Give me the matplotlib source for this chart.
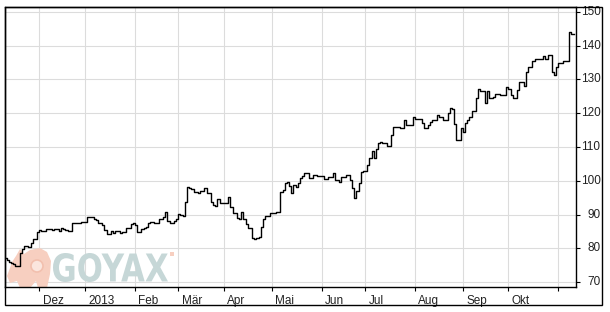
import numpy as np
import pandas as pd
import matplotlib
matplotlib.use("Agg")
import matplotlib.pyplot as plt
import matplotlib.transforms as mtransforms
from matplotlib.patches import PathPatch, Polygon, Rectangle, Circle
from matplotlib.textpath import TextPath
from matplotlib.font_manager import FontProperties

# ---------------- data (one closing price per trading day) ----------------
start_date = "2012-11-09"
prices = [
    77.0, 76.5, 76.0, 75.6, 75.2, 74.8, 74.7, 78.6, 79.8, 80.6,
    80.6, 80.4, 81.6, 82.6, 82.8, 84.7, 85.4, 85.0, 85.2, 85.6,
    85.7, 85.6, 85.5, 85.8, 85.6, 85.2, 85.9, 85.6, 85.3, 85.0,
    85.0, 87.5, 87.6, 87.5, 87.6, 87.8, 87.7, 87.9, 89.2, 89.4,
    89.2, 88.6, 88.4, 87.6, 87.6, 86.9, 85.4, 84.1, 84.1, 85.1,
    84.6, 85.1, 85.1, 84.6, 84.9, 84.9, 85.9, 85.9, 87.2, 87.4,
    86.9, 84.9, 84.9, 85.6, 85.9, 86.4, 87.6, 87.9, 87.9, 87.4,
    87.4, 88.6, 88.6, 89.4, 90.8, 88.0, 87.4, 87.4, 88.0, 88.6,
    90.1, 90.0, 89.6, 93.8, 98.2, 98.0, 97.6, 96.8, 96.8, 96.3,
    96.9, 96.9, 98.0, 96.3, 96.3, 93.8, 92.8, 92.6, 94.5, 93.5,
    93.5, 93.5, 93.5, 95.1, 92.3, 90.5, 90.5, 88.9, 88.6, 90.6,
    88.6, 87.2, 85.9, 85.9, 82.9, 82.7, 82.9, 83.2, 86.4, 88.6,
    89.6, 89.6, 90.5, 90.5, 90.5, 90.6, 90.6, 96.8, 97.3, 99.3,
    99.7, 98.4, 96.5, 98.7, 98.1, 99.4, 100.7, 101.4, 102.4, 102.4,
    100.7, 100.7, 101.7, 101.7, 101.5, 101.5, 101.5, 100.4, 100.4, 101.1,
    101.1, 102.4, 100.2, 100.2, 99.7, 101.1, 101.1, 101.6, 101.6, 100.2,
    97.8, 94.8, 97.1, 99.3, 102.7, 102.8, 102.8, 104.7, 106.7, 108.9,
    106.7, 109.3, 111.3, 111.5, 111.3, 111.3, 110.3, 110.3, 113.6, 115.8,
    115.8, 115.9, 115.6, 115.6, 118.0, 116.5, 116.5, 116.6, 119.0, 118.2,
    118.3, 118.3, 117.2, 115.6, 115.6, 116.5, 117.5, 118.0, 118.0, 119.5,
    119.0, 119.0, 118.0, 118.0, 120.2, 121.5, 121.2, 116.8, 112.1, 112.1,
    115.6, 114.5, 117.0, 118.0, 119.0, 120.8, 120.8, 124.4, 127.1, 126.7,
    126.7, 123.1, 126.7, 124.6, 124.6, 124.8, 125.7, 125.7, 125.5, 125.5,
    125.5, 127.9, 127.2, 125.5, 124.4, 124.4, 126.9, 129.4, 129.4, 128.1,
    132.3, 133.8, 133.8, 135.6, 136.0, 136.0, 136.0, 136.0, 137.0, 136.0,
    137.3, 137.3, 132.3, 131.3, 133.8, 135.0, 135.0, 135.6, 135.6, 135.4,
    144.2, 143.5, 143.5,
]
month_labels = ["Dez", "2013", "Feb", "Mär", "Apr", "Mai", "Jun", "Jul",
                "Aug", "Sep", "Okt", ""]
y_ticks = [70, 80, 90, 100, 110, 120, 130, 140, 150]

dates = pd.bdate_range(start_date, periods=len(prices))
x = np.arange(len(prices))
months = dates.month.values
month_starts = np.where(months[1:] != months[:-1])[0] + 1

# ---------------- figure ----------------
W, H = 610, 312
fig = plt.figure(figsize=(W / 100, H / 100), dpi=100)
fig.patch.set_facecolor("white")
ax = fig.add_axes([4.5 / W, 25 / H, 571 / W, 280 / H])

font = "Liberation Sans"
fs = 8.5
txt_color = "#222222"

ax.set_xlim(-0.02, 262.87)
ax.set_ylim(68.52, 151.48)

ax.set_axisbelow(True)
ax.set_yticks(y_ticks)
ax.set_xticks(month_starts)
ax.grid(True, color="#dcdcdc", lw=0.8)
ax.tick_params(axis="x", direction="out", length=3, width=0.8,
               labelbottom=False, colors="#000000")
ax.yaxis.tick_right()
ax.tick_params(axis="y", direction="out", length=3, width=0.8,
               labelright=False, labelleft=False, left=False, right=True)
for s in ax.spines.values():
    s.set_linewidth(1.0)
    s.set_color("black")

# watermark (pixel coordinates, y downwards)
pix = mtransforms.Affine2D().scale(1 / W, -1 / H).translate(0, 1) + fig.transFigure

bull_pts = [(12, 262), (16, 256), (20, 249), (24, 254), (30, 250), (40, 248),
            (47, 252), (51, 261), (50, 274), (47, 288), (38, 288), (36, 281),
            (30, 288), (20, 288), (17, 281), (10, 283), (7, 276), (10, 268)]
ax.add_patch(Polygon(bull_pts, closed=True, transform=pix,
                     facecolor="#f7cfc0", edgecolor="none", zorder=1.2))
ax.add_patch(Circle((37, 266), 6, transform=pix, facecolor="#fbe6de",
                    edgecolor="#f2c0ae", lw=1.2, zorder=1.3))

tp = TextPath((0, 0), "GOYAX", size=100,
              prop=FontProperties(family="DejaVu Sans", weight="bold"))
bb = tp.get_extents()
gx0, gx1, gy0, gy1 = 53, 168, 253, 282
tt = (mtransforms.Affine2D().translate(-bb.x0, -bb.y0)
      .scale((gx1 - gx0) / bb.width, -(gy1 - gy0) / bb.height)
      .translate(gx0, gy1)) + pix
ax.add_patch(PathPatch(tp, transform=tt, facecolor="#c6d7d7",
                       edgecolor="none", zorder=1.2))
ax.add_patch(Rectangle((170, 252), 4, 4, transform=pix,
                       facecolor="#f7cfc0", edgecolor="none", zorder=1.2))

# price line
ax.plot(x, prices, drawstyle="steps-post", color="black", lw=1.0, zorder=3)

# month labels
xt = mtransforms.offset_copy(
    mtransforms.blended_transform_factory(ax.transData, fig.transFigure),
    fig=fig, x=3.3, y=0, units="dots")
for pos, lab in zip(month_starts, month_labels):
    ax.text(pos, (H - 304) / H, lab, transform=xt, ha="left", va="baseline",
            fontsize=fs, family=font, color=txt_color, clip_on=False)

# y labels
yt = mtransforms.blended_transform_factory(fig.transFigure, ax.transData)
for v in y_ticks:
    ax.text(600.5 / W, v, str(v), transform=yt, ha="right", va="center",
            fontsize=fs, family=font, color=txt_color, clip_on=False)

# outer frame
fig.patches.append(Rectangle((4.5, 7), 597.5, 298, transform=pix, fill=False,
                             edgecolor="black", lw=1.0))

fig.savefig("out.png", dpi=100, facecolor="white")
